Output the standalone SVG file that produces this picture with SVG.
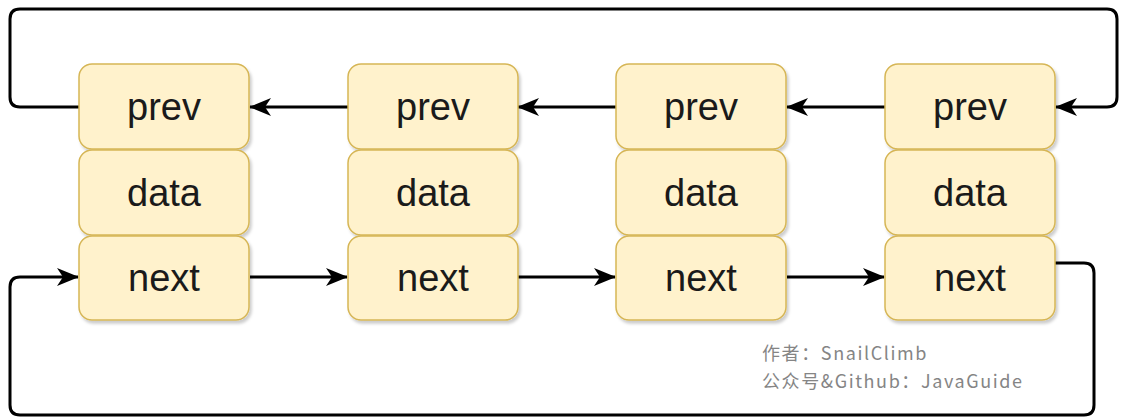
<svg xmlns="http://www.w3.org/2000/svg" width="1123" height="418" viewBox="0 0 1123 418">
<style>
.box{fill:#fff2cc;stroke:#d6b656;stroke-width:1.5;filter:url(#sh)}
.lbl{font-family:"Liberation Sans",Arial,sans-serif;font-size:38px;fill:#1a1a1a;text-anchor:middle;dominant-baseline:central}
.edge{fill:none;stroke:#000;stroke-width:3;stroke-linejoin:round}
.wm{font-family:"Noto Sans CJK SC","Noto Sans",sans-serif;font-size:18px;letter-spacing:1.6px;fill:#858585}
</style>
<defs>
<filter id="sh" x="-10%" y="-10%" width="130%" height="130%">
<feDropShadow dx="2" dy="3" stdDeviation="1.5" flood-color="#000" flood-opacity="0.2"/>
</filter>
<marker id="ah" viewBox="0 0 22 18" refX="21" refY="9" markerWidth="22" markerHeight="18" markerUnits="userSpaceOnUse" orient="auto">
<path d="M0,0 L22,9 L0,18 L6,9 Z" fill="#000"/>
</marker>
</defs>
<g id="connectors">
<path class="edge" d="M79,107 H20 Q10,107 10,97 V19 Q10,9 20,9 H1107 Q1117,9 1117,19 V97 Q1117,107 1107,107 H1056" marker-end="url(#ah)"/>
<path class="edge" d="M348,107 H250" marker-end="url(#ah)"/>
<path class="edge" d="M616,107 H518" marker-end="url(#ah)"/>
<path class="edge" d="M885,107 H787" marker-end="url(#ah)"/>
<path class="edge" d="M250,277 H347" marker-end="url(#ah)"/>
<path class="edge" d="M518,277 H615" marker-end="url(#ah)"/>
<path class="edge" d="M787,277 H884" marker-end="url(#ah)"/>
<path class="edge" d="M1055,263 H1084 Q1094,263 1094,273 V405 Q1094,415 1084,415 H20 Q10,415 10,405 V287 Q10,277 20,277 H78" marker-end="url(#ah)"/>
</g>
<g id="node1">
<rect class="box" x="79" y="64" width="170" height="85" rx="13"/>
<rect class="box" x="79" y="150" width="170" height="85" rx="13"/>
<rect class="box" x="79" y="236" width="170" height="84" rx="13"/>
<text class="lbl" x="164" y="107">prev</text>
<text class="lbl" x="164" y="193">data</text>
<text class="lbl" x="164" y="278">next</text>
</g>
<g id="node2">
<rect class="box" x="348" y="64" width="170" height="85" rx="13"/>
<rect class="box" x="348" y="150" width="170" height="85" rx="13"/>
<rect class="box" x="348" y="236" width="170" height="84" rx="13"/>
<text class="lbl" x="433" y="107">prev</text>
<text class="lbl" x="433" y="193">data</text>
<text class="lbl" x="433" y="278">next</text>
</g>
<g id="node3">
<rect class="box" x="616" y="64" width="170" height="85" rx="13"/>
<rect class="box" x="616" y="150" width="170" height="85" rx="13"/>
<rect class="box" x="616" y="236" width="170" height="84" rx="13"/>
<text class="lbl" x="701" y="107">prev</text>
<text class="lbl" x="701" y="193">data</text>
<text class="lbl" x="701" y="278">next</text>
</g>
<g id="node4">
<rect class="box" x="885" y="64" width="170" height="85" rx="13"/>
<rect class="box" x="885" y="150" width="170" height="85" rx="13"/>
<rect class="box" x="885" y="236" width="170" height="84" rx="13"/>
<text class="lbl" x="970" y="107">prev</text>
<text class="lbl" x="970" y="193">data</text>
<text class="lbl" x="970" y="278">next</text>
</g>
<g id="watermark">
<text class="wm" x="762" y="360">作者：SnailClimb</text>
<text class="wm" x="762" y="388">公众号&amp;Github：JavaGuide</text>
</g>
</svg>
